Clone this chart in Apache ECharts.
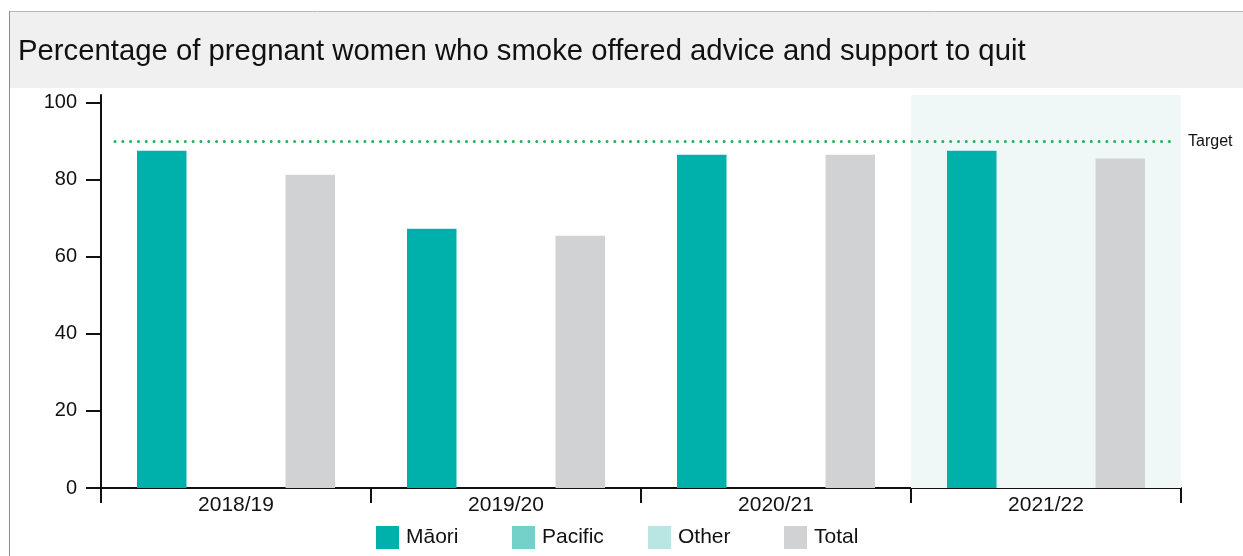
<!DOCTYPE html>
<html>
<head>
<meta charset="utf-8">
<script src="https://cdn.jsdelivr.net/npm/echarts@6/dist/echarts.min.js"></script>
<style>
  html, body { margin: 0; padding: 0; background: #fff; }
  #chart { width: 1243px; height: 556px; }
</style>
</head>
<body>
<div id="chart"></div>
<script>
// Financial years on the category axis
const years = ['2018/19', '2019/20', '2020/21', '2021/22'];
// Percentage offered advice and support, by ethnicity
const maori = [87.5, 67.3, 86.5, 87.5];
const pacific = ['-', '-', '-', '-'];
const other = ['-', '-', '-', '-'];
const total = [81.3, 65.5, 86.5, 85.5];
// Target level and y-axis tick labels
const target = 90;
const yTicks = [0, 20, 40, 60, 80, 100];
const highlightYear = '2021/22';
const groups = ['Māori', 'Pacific', 'Other', 'Total'];

const FONT = '"Liberation Sans", Arial, Helvetica, sans-serif';
const chart = echarts.init(document.getElementById('chart'), null, { renderer: 'canvas' });

// One legend block per group so each entry sits in an equal-width slot
const legends = groups.map((name, i) => ({
  left: 376 + i * 136,
  top: 526,
  itemWidth: 23,
  itemHeight: 23,
  itemGap: 7,
  icon: 'rect',
  padding: 0,
  data: [name],
  textStyle: { fontFamily: FONT, fontSize: 21, color: '#111', padding: [0, 0, 0, 2] }
}));

chart.setOption({
  animation: false,
  textStyle: { fontFamily: FONT, color: '#111' },
  graphic: [
    { type: 'rect', shape: { x: 10, y: 12, width: 1233, height: 76 }, style: { fill: '#f0f0f0' }, z: -10 },
    { type: 'line', shape: { x1: 9, y1: 11.5, x2: 1243, y2: 11.5 }, style: { stroke: '#b8b8b8', lineWidth: 1 } },
    { type: 'line', shape: { x1: 9.5, y1: 11, x2: 9.5, y2: 556 }, style: { stroke: '#8c8c8c', lineWidth: 1 } }
  ],
  title: {
    text: 'Percentage of pregnant women who smoke offered advice and support to quit',
    left: 18,
    top: 37,
    padding: 0,
    textStyle: { fontFamily: FONT, fontSize: 29.3, fontWeight: 'normal', color: '#111' }
  },
  legend: legends,
  grid: { left: 101, right: 62, top: 95, bottom: 68 },
  xAxis: {
    type: 'category',
    data: years,
    axisLine: { lineStyle: { color: '#111', width: 2 } },
    axisTick: { show: true, length: 15, lineStyle: { color: '#111', width: 2 } },
    axisLabel: { fontFamily: FONT, fontSize: 21, color: '#111', margin: 7 },
    splitLine: { show: false }
  },
  yAxis: {
    type: 'value',
    min: 0,
    max: 102,
    axisLine: { show: true, lineStyle: { color: '#111', width: 2 } },
    axisTick: { show: true, length: 15, customValues: yTicks, lineStyle: { color: '#111', width: 2 } },
    axisLabel: { fontFamily: FONT, fontSize: 20, color: '#111', margin: 24, customValues: yTicks },
    splitLine: { show: false }
  },
  series: [
    {
      name: groups[0], type: 'bar', data: maori, barWidth: 49.5, barGap: 0,
      itemStyle: { color: '#00b0aa' },
      markArea: {
        silent: true,
        itemStyle: { color: '#eff8f7' },
        data: [[{ xAxis: highlightYear }, { xAxis: highlightYear }]]
      },
      z: 2
    },
    { name: groups[1], type: 'bar', data: pacific, barWidth: 49.5, barGap: 0, itemStyle: { color: '#74d1ca' } },
    { name: groups[2], type: 'bar', data: other, barWidth: 49.5, barGap: 0, itemStyle: { color: '#b9e6e3' } },
    {
      name: groups[3], type: 'bar', data: total, barWidth: 49.5, barGap: 0,
      itemStyle: { color: '#d1d2d4' },
      markLine: {
        silent: true,
        symbol: 'none',
        lineStyle: { color: '#1cb35a', width: 3, type: [0.01, 7.8], cap: 'round' },
        label: {
          show: true, position: 'end', distance: 16, formatter: 'Target',
          fontFamily: FONT, fontSize: 16, color: '#111', padding: [4, 0, 0, 0]
        },
        data: [[
          { coord: [years[0], target], x: 115 },
          { coord: [years[years.length - 1], target], x: 1172 }
        ]]
      }
    }
  ]
});
</script>
</body>
</html>
